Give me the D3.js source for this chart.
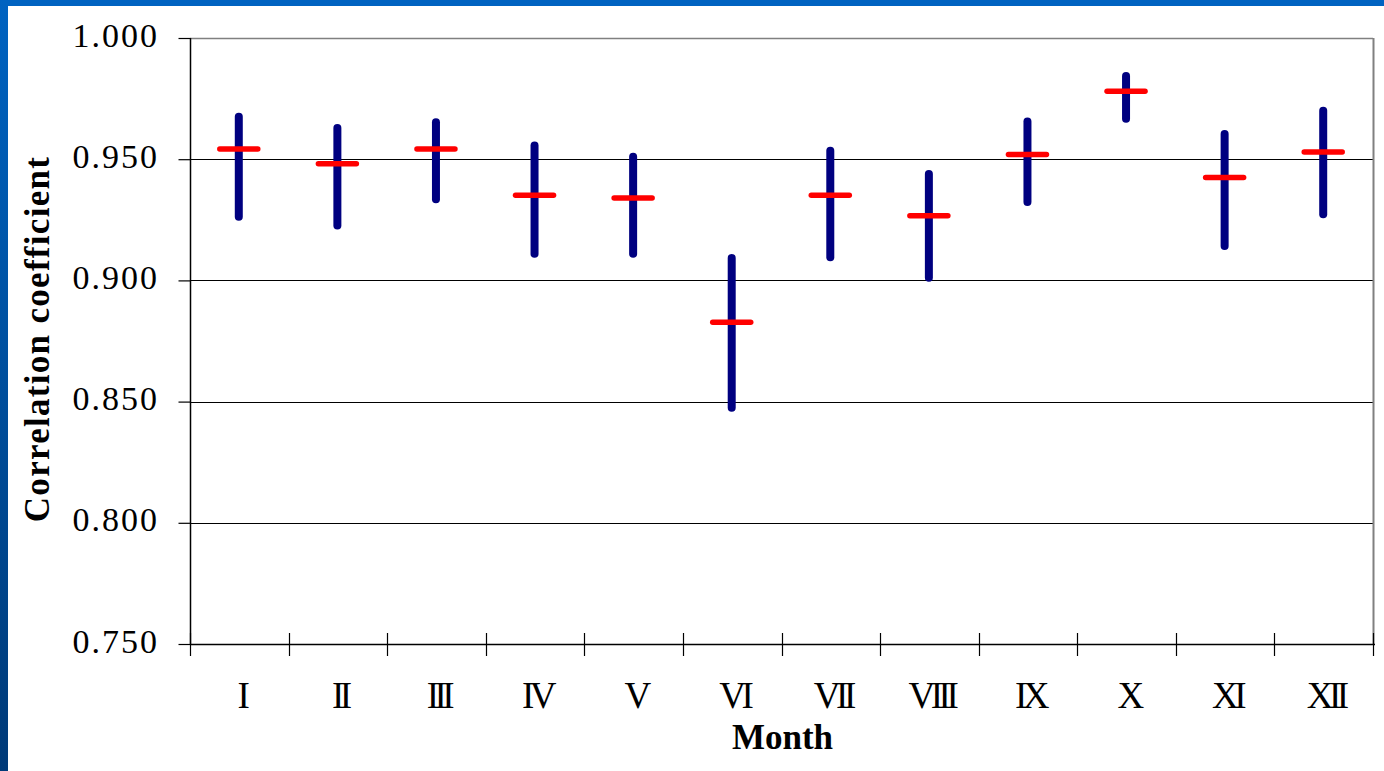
<!DOCTYPE html>
<html>
<head>
<meta charset="utf-8">
<script src="https://cdn.jsdelivr.net/npm/d3@7"></script>
<style>
  html, body { margin: 0; padding: 0; background: #ffffff; }
  svg { display: block; }
  svg text { font-family: "Liberation Serif", "Times New Roman", Times, serif; }
</style>
</head>
<body>
<script>
// Monthly correlation coefficients: range (min–max) and mean per month
const months = ["I", "II", "III", "IV", "V", "VI", "VII", "VIII", "IX", "X", "XI", "XII"];
const maxValues  = [0.9675, 0.9629, 0.9652, 0.9557, 0.9510, 0.9092, 0.9535, 0.9439, 0.9656, 0.9843, 0.9604, 0.9700];
const minValues  = [0.9263, 0.9227, 0.9335, 0.9110, 0.9110, 0.8475, 0.9095, 0.9011, 0.9323, 0.9667, 0.9142, 0.9273];
const meanValues = [0.9542, 0.9481, 0.9542, 0.9351, 0.9340, 0.8827, 0.9351, 0.9267, 0.9519, 0.9780, 0.9424, 0.9530];
const yTicks = [0.75, 0.80, 0.85, 0.90, 0.95, 1.00];

const W = 1384, H = 771;
const plot = { left: 190, right: 1373, top: 38, bottom: 644 };
const serif = "'Liberation Serif', 'Times New Roman', Times, serif";

const svg = d3.select("body").append("svg").attr("width", W).attr("height", H)
  .attr("font-family", serif);

// Slide frame: blue bars along the top and left edges
const defs = svg.append("defs");
const grad = defs.append("linearGradient").attr("id", "frameGrad")
  .attr("x1", 0).attr("y1", 0).attr("x2", 0).attr("y2", 1);
grad.append("stop").attr("offset", "0%").attr("stop-color", "#0063c1");
grad.append("stop").attr("offset", "100%").attr("stop-color", "#003a78");
svg.append("rect").attr("x", 0).attr("y", 0).attr("width", W).attr("height", 6).attr("fill", "#0063c1");
svg.append("rect").attr("x", 0).attr("y", 0).attr("width", 8).attr("height", H).attr("fill", "url(#frameGrad)");

const x = d3.scaleBand().domain(months).range([plot.left, plot.right]).padding(0);
const y = d3.scaleLinear().domain([0.75, 1.0]).range([plot.bottom, plot.top]);

// Horizontal gridlines
svg.append("g").selectAll("line")
  .data(yTicks.filter(t => t > 0.75 && t < 1.0))
  .join("line")
  .attr("x1", plot.left).attr("x2", plot.right)
  .attr("y1", d => Math.round(y(d)) + 0.5).attr("y2", d => Math.round(y(d)) + 0.5)
  .attr("stroke", "#000").attr("stroke-width", 1);

// Plot frame (top and right) in grey
svg.append("line")
  .attr("x1", plot.left).attr("x2", plot.right)
  .attr("y1", Math.round(y(1.0)) + 0.5).attr("y2", Math.round(y(1.0)) + 0.5)
  .attr("stroke", "#808080").attr("stroke-width", 1.5);
svg.append("line")
  .attr("x1", plot.right + 0.5).attr("x2", plot.right + 0.5)
  .attr("y1", plot.top).attr("y2", plot.bottom)
  .attr("stroke", "#808080").attr("stroke-width", 2);

// Y axis
const yAxis = svg.append("g")
  .attr("transform", `translate(${plot.left + 0.5},0)`)
  .call(d3.axisLeft(y).tickValues(yTicks).tickFormat(d3.format(".3f")).tickSize(12).tickPadding(0))
  .attr("font-family", serif).attr("font-size", null);
yAxis.select(".domain").attr("stroke", "#000").attr("stroke-width", 1.5)
  .attr("d", `M0,${plot.top}V${plot.bottom}`);
yAxis.selectAll(".tick line").attr("stroke", "#000").attr("stroke-width", 1.2);
yAxis.selectAll(".tick text")
  .attr("x", -31.5).attr("dy", "0.24em")
  .style("font-family", serif)
  .style("font-size", "34px").style("letter-spacing", "2px")
  .attr("fill", "#000");

// X axis: band boundary ticks crossing the axis line
const xAxisG = svg.append("g");
xAxisG.append("line")
  .attr("x1", plot.left).attr("x2", plot.right + 2)
  .attr("y1", plot.bottom + 0.5).attr("y2", plot.bottom + 0.5)
  .attr("stroke", "#000").attr("stroke-width", 1.5);
const boundaries = months.map(m => x(m)).concat([x(months[months.length - 1]) + x.bandwidth()]);
xAxisG.selectAll("line.tick")
  .data(boundaries)
  .join("line").attr("class", "tick")
  .attr("x1", d => Math.round(d) + 0.5).attr("x2", d => Math.round(d) + 0.5)
  .attr("y1", plot.bottom - 11).attr("y2", plot.bottom + 12)
  .attr("stroke", "#000").attr("stroke-width", 1.2);
xAxisG.selectAll("text")
  .data(months)
  .join("text")
  .attr("x", d => x(d) + x.bandwidth() / 2 + 2)
  .attr("y", 708)
  .attr("text-anchor", "middle")
  .style("font-family", serif)
  .style("font-size", "37px").style("letter-spacing", "-4.5px")
  .attr("fill", "#000")
  .text(d => d);

// Axis titles
svg.append("text")
  .attr("x", (plot.left + plot.right) / 2 + 1).attr("y", 749)
  .attr("text-anchor", "middle")
  .style("font-family", serif)
  .style("font-size", "35px").style("font-weight", "bold")
  .attr("fill", "#000")
  .text("Month");

svg.append("text")
  .attr("transform", "translate(49,339) rotate(-90)")
  .attr("text-anchor", "middle")
  .style("font-family", serif)
  .style("font-size", "35px").style("font-weight", "bold").style("letter-spacing", "1.3px")
  .attr("fill", "#000")
  .text("Correlation coefficient");

// Data marks
const rows = months.map((m, i) => ({ m, lo: minValues[i], hi: maxValues[i], mean: meanValues[i] }));
const cx = d => x(d.m) + x.bandwidth() / 2 - 0.5;

svg.append("g").selectAll("line")
  .data(rows)
  .join("line")
  .attr("x1", cx).attr("x2", cx)
  .attr("y1", d => y(d.hi)).attr("y2", d => y(d.lo))
  .attr("stroke", "#000080").attr("stroke-width", 8).attr("stroke-linecap", "round");

svg.append("g").selectAll("line")
  .data(rows)
  .join("line")
  .attr("x1", d => cx(d) - 19).attr("x2", d => cx(d) + 19)
  .attr("y1", d => y(d.mean)).attr("y2", d => y(d.mean))
  .attr("stroke", "#ff0000").attr("stroke-width", 5.5).attr("stroke-linecap", "round");
</script>
</body>
</html>
